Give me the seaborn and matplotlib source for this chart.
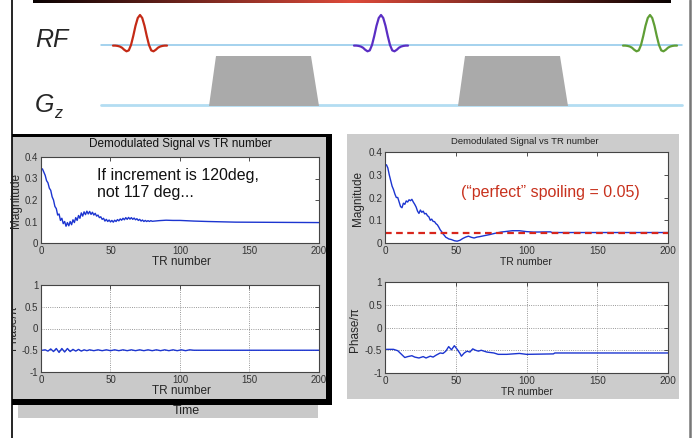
"""
Slide recreation: RF spoiling diagram + two MATLAB-style signal panels
"""

import numpy as np
import matplotlib
matplotlib.use("Agg")
import matplotlib.pyplot as plt
from matplotlib.patches import Rectangle, Polygon
from matplotlib.colors import LinearSegmentedColormap
from matplotlib.ticker import FuncFormatter
import seaborn as sns
import pandas as pd

# ---------------- data ----------------
tr_ticks = [0, 50, 100, 150, 200]
mag_ticks = [0, 0.1, 0.2, 0.3, 0.4]
phase_ticks = [-1, -0.5, 0, 0.5, 1]

# left panel (120 deg increment): magnitude
left_mag_tr = list(range(1, 81)) + [85, 90, 95, 100, 110, 120, 140, 170, 200]
left_mag = [.345, .33, .315, .29, .28, .255, .245, .215, .2, .17,
            .16, .13, .135, .105, .115, .09, .1, .078, .095, .08,
            .1, .085, .108, .095, .118, .105, .128, .115, .14, .125,
            .145, .132, .148, .135, .147, .133, .143, .13, .138, .125,
            .13, .118, .122, .11, .115, .102, .11, .1, .107, .098,
            .105, .097, .106, .1, .109, .103, .112, .106, .115, .108,
            .118, .11, .119, .111, .118, .11, .116, .108, .113, .105,
            .11, .102, .107, .1, .105, .1, .104, .1, .104, .101,
            .104, .106, .105, .105, .102, .1, .097, .096, .095]

# left panel: phase / pi
left_phase_tr = [1, 3, 5, 7, 9, 11, 13, 15, 17, 19, 21, 23, 25, 27, 29, 31, 33, 35,
                 38, 41, 44, 47, 50, 53, 56, 59, 62, 65, 68, 71, 74, 77, 80, 83,
                 86, 89, 92, 95, 98, 101, 104, 107, 110, 200]
left_phase = [-.5, -.49, -.52, -.47, -.53, -.46, -.55, -.46, -.54, -.46, -.53, -.48,
              -.52, -.48, -.52, -.49, -.51, -.49,
              -.51, -.49, -.51, -.49, -.51, -.49, -.51, -.49, -.51, -.49, -.51, -.49,
              -.51, -.49, -.51, -.49, -.51, -.49, -.51, -.49, -.51, -.49, -.51, -.49,
              -.5, -.5]

# right panel (117 deg increment): magnitude
right_mag_tr = [1, 2, 3, 4, 5, 6, 7, 8, 9, 10, 11, 12, 13, 14, 15, 16, 17, 18, 19, 20,
                21, 22, 23, 24, 25, 26, 27, 28, 29, 30, 31, 32, 33, 34, 35, 36, 37, 38,
                39, 40, 41, 42, 43, 44, 45, 47, 49, 51, 53, 55, 57, 59, 61, 63, 65, 67,
                70, 74, 78, 82, 86, 90, 95, 100, 105, 117, 118, 200]
right_mag = [.344, .33, .3, .275, .25, .235, .215, .2, .2, .18, .16, .155, .175, .17,
             .185, .18, .19, .186, .192, .18, .17, .158, .14, .13, .145, .135, .14, .128,
             .13, .12, .115, .1, .105, .095, .094, .085, .08, .07, .058, .05, .04, .033,
             .025, .022, .018, .015, .01, .008, .012, .02, .026, .03, .025, .022, .026,
             .028, .032, .037, .043, .048, .051, .054, .054, .05, .048, .049, .046, .046]
perfect_spoiling = 0.046

# right panel: phase / pi
right_phase_tr = [1, 6, 9, 12, 14, 16, 19, 21, 24, 27, 29, 32, 34, 36, 39, 41, 43, 45,
                  47, 49, 51, 53, 54, 56, 58, 60, 62, 64, 66, 68, 72, 77, 80, 86, 95,
                  100, 119, 120, 200]
right_phase = [-.48, -.48, -.51, -.6, -.66, -.64, -.62, -.65, -.67, -.64, -.67, -.63,
               -.65, -.61, -.56, -.57, -.52, -.42, -.49, -.4, -.48, -.57, -.63, -.56,
               -.52, -.54, -.47, -.5, -.52, -.5, -.54, -.56, -.59, -.59, -.57, -.59,
               -.58, -.56, -.56]

# RF pulse shape (sinc-like), sampled
pulse_t = [-3, -2.75, -2.5, -2.25, -2, -1.75, -1.5, -1.25, -1, -0.75, -0.5, -0.25, 0,
           0.25, 0.5, 0.75, 1, 1.25, 1.5, 1.75, 2, 2.25, 2.5, 2.75, 3]
pulse_shape = [-.02, -.02, -.03, -.05, -.09, -.16, -.21, -.18, 0, .3, .64, .9, 1,
               .9, .64, .3, 0, -.18, -.21, -.16, -.09, -.05, -.03, -.02, -.02]
rf_colors = ["#c42a16", "#5a2ec4", "#5f9e35"]

# ---------------- layout (pixels) ----------------
W, H = 694, 438
BLUE = "#1c35d0"

sns.set_style("white")
plt.rcParams["font.family"] = ["Liberation Sans", "DejaVu Sans"]

fig = plt.figure(figsize=(W / 100, H / 100), dpi=100)
bg = fig.add_axes([0, 0, 1, 1])
bg.axis("off")


def px_axes(x0, y0, x1, y1):
    return fig.add_axes([x0 / W, 1 - y1 / H, (x1 - x0) / W, (y1 - y0) / H])


def style_axes(ax, yticks, ylim, grid=False, fs=7):
    ax.set_xlim(0, 200)
    ax.set_ylim(*ylim)
    ax.set_xticks(tr_ticks)
    ax.set_yticks(yticks)
    fmt = FuncFormatter(lambda v, p: f"{v:g}")
    ax.xaxis.set_major_formatter(fmt)
    ax.yaxis.set_major_formatter(fmt)
    ax.tick_params(direction="in", top=True, right=True, length=3, width=0.6,
                   labelsize=fs, colors="#333333", pad=2)
    for s in ax.spines.values():
        s.set_color("#444444")
        s.set_linewidth(0.8)
    ax.set_facecolor("white")
    if grid:
        ax.grid(True, ls=":", color="#777777", lw=0.6)
    ax.set_xlabel("")
    ax.set_ylabel("")


# ---- slide decoration ----
cmap = LinearSegmentedColormap.from_list("bar", ["#0a0202", "#dd4a3a", "#0a0202"])
bg.imshow(np.linspace(0, 1, 256)[None, :], cmap=cmap, extent=[33, 671, 3.5, 0],
          aspect="auto")
bg.plot([12, 12], [0, 438], color="black", lw=1.2)
bg.plot([690.5, 690.5], [0, 438], color="#777777", lw=1.8)

# RF / Gz diagram
bg.plot([101, 682], [45, 45], color="#8cc6ea", lw=1.1)
bg.plot([101, 682], [105, 105], color="#b3ddf2", lw=2)
for cx, col in zip([140, 381, 650], rf_colors):
    bg.plot(cx + 9 * np.array(pulse_t), 45 - 30 * np.array(pulse_shape), color=col,
            lw=1.6, solid_capstyle="round")
for x0 in [209, 458]:
    bg.add_patch(Polygon([(x0, 106), (x0 + 7, 56), (x0 + 102, 56), (x0 + 110, 106)],
                         closed=True, facecolor="#aaaaaa", edgecolor="none", zorder=3))
bg.text(35, 40, "RF", fontsize=18, style="italic", va="center", ha="left")
bg.text(35, 105, "G", fontsize=18, style="italic", va="center", ha="left")
bg.text(54, 114, "z", fontsize=11.5, style="italic", va="center", ha="left")

# MATLAB figure panels
left_panel = Rectangle((12, 137), 314, 262, facecolor="#c9c9c9", edgecolor="none")
bg.add_patch(left_panel)
bg.add_patch(Rectangle((12, 134), 320, 3.2, facecolor="black", edgecolor="none"))
bg.add_patch(Rectangle((326, 134), 6, 271, facecolor="black", edgecolor="none"))
bg.add_patch(Rectangle((12, 399), 320, 6, facecolor="black", edgecolor="none"))
bg.add_patch(Rectangle((18, 405), 300, 13, facecolor="#c9c9c9", edgecolor="none"))
bg.text(186, 411, "Time", fontsize=9, ha="center", va="center", color="#222222")
bg.add_patch(Rectangle((347, 134), 332, 265, facecolor="#cccccc", edgecolor="none"))

bg.set_xlim(0, W)
bg.set_ylim(H, 0)

# ---- left panel: magnitude ----
ax1 = px_axes(41, 157, 319, 243)
sns.lineplot(data=pd.DataFrame({"tr": left_mag_tr, "mag": left_mag}), x="tr", y="mag",
             ax=ax1, color=BLUE, lw=1.0)
style_axes(ax1, mag_ticks, (0, 0.4))
ax1.text(180, 144, "Demodulated Signal vs TR number", transform=bg.transData,
         ha="center", va="center", fontsize=8.5, color="#111111")
ax1.text(97, 168, "If increment is 120deg,\nnot 117 deg...", transform=bg.transData,
         ha="left", va="top", fontsize=11.5, color="#111111", linespacing=1.2)
ax1.set_xlabel("TR number", fontsize=8.5, va="center")
ax1.xaxis.set_label_coords(181, 262, transform=bg.transData)
ax1.set_ylabel("Magnitude", fontsize=8.5, va="center")
ax1.yaxis.set_label_coords(16, 200, transform=bg.transData)

# ---- left panel: phase ----
ax2 = px_axes(41, 285, 319, 372)
sns.lineplot(data=pd.DataFrame({"tr": left_phase_tr, "ph": left_phase}), x="tr", y="ph",
             ax=ax2, color=BLUE, lw=1.0)
style_axes(ax2, phase_ticks, (-1, 1), grid=True)
ax2.set_xlabel("TR number", fontsize=8.5, va="center")
ax2.xaxis.set_label_coords(181, 391, transform=bg.transData)
ax2.set_ylabel("Phase/π", fontsize=8.5, va="center")
ax2.yaxis.set_label_coords(13, 328, transform=bg.transData)
ax2.yaxis.label.set_clip_path(left_panel)

# ---- right panel: magnitude ----
ax3 = px_axes(385, 152, 668, 243)
sns.lineplot(data=pd.DataFrame({"tr": right_mag_tr, "mag": right_mag}), x="tr", y="mag",
             ax=ax3, color=BLUE, lw=1.0)
ax3.axhline(perfect_spoiling, color="#d8261c", lw=1.6, dashes=(3, 2))
style_axes(ax3, mag_ticks, (0, 0.4), fs=7.2)
ax3.text(525, 142, "Demodulated Signal vs TR number", transform=bg.transData,
         ha="center", va="center", fontsize=6.8, color="#222222")
ax3.text(550, 193, "(\u201cperfect\u201d spoiling = 0.05)", transform=bg.transData,
         ha="center", va="center", fontsize=11.5, color="#c8321e")
ax3.set_xlabel("TR number", fontsize=7.5, va="center")
ax3.xaxis.set_label_coords(526, 262, transform=bg.transData)
ax3.set_ylabel("Magnitude", fontsize=8.5, va="center")
ax3.yaxis.set_label_coords(358, 198, transform=bg.transData)

# ---- right panel: phase ----
ax4 = px_axes(385, 282, 668, 373)
sns.lineplot(data=pd.DataFrame({"tr": right_phase_tr, "ph": right_phase}), x="tr", y="ph",
             ax=ax4, color=BLUE, lw=1.0)
style_axes(ax4, phase_ticks, (-1, 1), grid=True, fs=7.2)
ax4.set_xlabel("TR number", fontsize=7.5, va="center")
ax4.xaxis.set_label_coords(527, 392, transform=bg.transData)
ax4.set_ylabel("Phase/π", fontsize=8.5, va="center")
ax4.yaxis.set_label_coords(355, 330, transform=bg.transData)

fig.savefig("out.png", dpi=100)
